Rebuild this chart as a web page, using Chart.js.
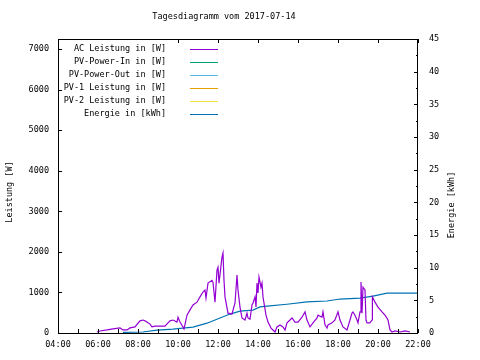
<!DOCTYPE html>
<html>
<head>
<meta charset="utf-8">
<script src="https://cdn.jsdelivr.net/npm/chart.js@4"></script>
<style>
  body { margin: 0; background: #fff; }
  canvas { display: block; }
</style>
</head>
<body>
<canvas id="tagesChart" width="480" height="360"></canvas>
<script>
// Titel und Achsen
const titel = "Tagesdiagramm vom 2017-07-14";
const achseLinks = "Leistung [W]";
const achseRechts = "Energie [kWh]";

// Tick-Werte
const zeitTicks = [4, 6, 8, 10, 12, 14, 16, 18, 20, 22];
const leistungTicks = [0, 1000, 2000, 3000, 4000, 5000, 6000, 7000];
const energieTicks = [0, 5, 10, 15, 20, 25, 30, 35, 40, 45];

// AC Leistung (Uhrzeit in Stunden, Watt)
const acZeit = [5.95, 6.1, 6.45, 6.75, 7.1, 7.25, 7.45, 7.6, 7.85, 8.1, 8.25, 8.35, 8.5, 8.6, 8.7, 8.85, 9.1, 9.35, 9.5, 9.6, 9.75, 9.95, 10.0, 10.1, 10.25, 10.3, 10.45, 10.6, 10.75, 10.95, 11.1, 11.25, 11.35, 11.4, 11.5, 11.7, 11.75, 11.85, 11.95, 12.0, 12.05, 12.2, 12.25, 12.3, 12.35, 12.45, 12.5, 12.7, 12.85, 12.95, 13.0, 13.1, 13.2, 13.35, 13.45, 13.5, 13.6, 13.7, 13.75, 13.85, 13.9, 13.95, 14.0, 14.05, 14.15, 14.2, 14.25, 14.3, 14.4, 14.5, 14.65, 14.75, 14.85, 14.95, 15.1, 15.25, 15.35, 15.45, 15.6, 15.7, 15.85, 16.0, 16.2, 16.35, 16.45, 16.6, 16.75, 16.95, 17.0, 17.2, 17.25, 17.35, 17.45, 17.5, 17.7, 17.85, 18.0, 18.1, 18.25, 18.45, 18.6, 18.7, 18.75, 18.85, 18.95, 19.0, 19.1, 19.15, 19.2, 19.25, 19.35, 19.4, 19.45, 19.6, 19.7, 19.72, 19.85, 20.0, 20.2, 20.35, 20.5, 20.6, 20.7, 20.85, 21.1, 21.35, 21.6];
const acLeistung = [25, 50, 75, 100, 125, 75, 75, 125, 150, 300, 320, 300, 250, 220, 150, 170, 170, 170, 250, 300, 320, 270, 390, 270, 150, 100, 440, 570, 690, 760, 890, 1010, 1060, 860, 1230, 1300, 1250, 760, 1550, 1620, 1230, 1870, 1970, 1300, 890, 620, 490, 470, 740, 1430, 1060, 640, 370, 320, 490, 370, 340, 690, 740, 890, 640, 1230, 990, 1380, 1130, 1230, 890, 740, 440, 270, 120, 75, 25, 150, 200, 150, 75, 250, 320, 370, 270, 270, 390, 520, 320, 150, 250, 370, 440, 390, 520, 200, 120, 200, 250, 320, 520, 320, 150, 75, 320, 490, 520, 440, 320, 250, 520, 1260, 490, 1130, 1060, 320, 250, 250, 320, 890, 760, 640, 520, 440, 320, 75, 25, 50, 25, 50, 25];

// Energie (Uhrzeit in Stunden, kWh)
const energieZeit = [7.25, 8.25, 8.95, 9.75, 10.25, 10.75, 11.45, 12.1, 12.6, 13.1, 13.75, 14.1, 14.45, 15.45, 16.45, 17.45, 18.1, 19.1, 19.75, 20.45, 21.95];
const energie = [0.1, 0.15, 0.45, 0.6, 0.75, 0.9, 1.5, 2.3, 2.9, 3.35, 3.5, 4.0, 4.1, 4.4, 4.75, 4.9, 5.2, 5.35, 5.65, 6.1, 6.1];

// keine Werte an diesem Tag
const pvInZeit = [], pvIn = [];
const pvOutZeit = [], pvOut = [];
const pv1Zeit = [], pv1 = [];
const pv2Zeit = [], pv2 = [];

function punkte(zeit, werte) {
  return zeit.map((z, i) => ({ x: z, y: werte[i] }));
}

const schrift = "DejaVu Sans Mono";
const groesse = 8.5;

// Rahmen, Ticks nach innen, Legende und Beschriftungen wie bei gnuplot
const gnuplotStil = {
  id: "gnuplotStil",
  afterDraw(chart) {
    const ctx = chart.ctx;
    const a = chart.chartArea;
    const sx = chart.scales.x, sy = chart.scales.y, sy2 = chart.scales.y2;
    ctx.save();
    ctx.strokeStyle = "#000";
    ctx.lineWidth = 1;
    ctx.strokeRect(Math.round(a.left) + 0.5, Math.round(a.top) + 0.5, Math.round(a.right - a.left) - 1, Math.round(a.bottom - a.top));

    ctx.beginPath();
    for (let h = 4; h <= 22; h++) {
      const px = Math.round(sx.getPixelForValue(h)) + 0.5;
      ctx.moveTo(px, a.bottom);
      ctx.lineTo(px, a.bottom - 4);
      if (h % 2 === 0 && h > 8) {
        ctx.moveTo(px, a.top);
        ctx.lineTo(px, a.top + 4);
      }
    }
    leistungTicks.forEach(w => {
      if (w === 0) return;
      const py = Math.round(sy.getPixelForValue(w)) + 0.5;
      ctx.moveTo(a.left, py);
      ctx.lineTo(a.left + 4, py);
    });
    for (let e = 2.5; e < 45; e += 2.5) {
      const py = Math.round(sy2.getPixelForValue(e)) + 0.5;
      const len = e % 5 === 0 ? 4 : 2;
      ctx.moveTo(a.right, py);
      ctx.lineTo(a.right - len, py);
    }
    ctx.stroke();

    ctx.fillStyle = "#000";
    ctx.font = groesse + "px '" + schrift + "'";
    ctx.textBaseline = "middle";
    ctx.textAlign = "center";
    ctx.fillText(titel, 224, 17);

    ctx.save();
    ctx.translate(10, 192);
    ctx.rotate(-Math.PI / 2);
    ctx.fillText(achseLinks, 0, 0);
    ctx.restore();
    ctx.save();
    ctx.translate(452, 205);
    ctx.rotate(-Math.PI / 2);
    ctx.fillText(achseRechts, 0, 0);
    ctx.restore();

    ctx.textAlign = "right";
    chart.data.datasets.forEach((ds, i) => {
      const y = 49 + i * 13;
      ctx.fillStyle = "#000";
      ctx.fillText(ds.label, 166, y);
      ctx.strokeStyle = ds.borderColor;
      ctx.beginPath();
      ctx.moveTo(190, y + 0.5);
      ctx.lineTo(218, y + 0.5);
      ctx.stroke();
    });
    ctx.restore();
  }
};

const lineStil = { borderWidth: 1.2, pointRadius: 0, fill: false, tension: 0 };
const tickSchrift = { family: schrift, size: groesse };
const keinGitter = { display: false, drawTicks: false };

new Chart(document.querySelector("#tagesChart"), {
  type: "line",
  data: {
    datasets: [
      { label: "AC Leistung in [W]", data: punkte(acZeit, acLeistung), borderColor: "#9400d3", yAxisID: "y", ...lineStil },
      { label: "PV-Power-In in [W]", data: punkte(pvInZeit, pvIn), borderColor: "#009e73", yAxisID: "y", ...lineStil },
      { label: "PV-Power-Out in [W]", data: punkte(pvOutZeit, pvOut), borderColor: "#56b4e9", yAxisID: "y", ...lineStil },
      { label: "PV-1 Leistung in [W]", data: punkte(pv1Zeit, pv1), borderColor: "#e69f00", yAxisID: "y", ...lineStil },
      { label: "PV-2 Leistung in [W]", data: punkte(pv2Zeit, pv2), borderColor: "#f0e442", yAxisID: "y", ...lineStil },
      { label: "Energie in [kWh]", data: punkte(energieZeit, energie), borderColor: "#0072b2", yAxisID: "y2", ...lineStil }
    ]
  },
  options: {
    responsive: false,
    animation: false,
    layout: { padding: { top: 39, left: 0, right: 0, bottom: 0 } },
    plugins: { legend: { display: false }, title: { display: false }, tooltip: { enabled: false } },
    scales: {
      x: {
        type: "linear", position: "bottom", min: 4, max: 22,
        grid: keinGitter, border: { display: false },
        ticks: {
          padding: 7, color: "#000", maxRotation: 0, autoSkip: false, font: tickSchrift,
          callback: v => String(v).padStart(2, "0") + ":00"
        },
        afterBuildTicks: s => { s.ticks = zeitTicks.map(v => ({ value: v })); },
        afterFit: s => { s.height = 27; }
      },
      y: {
        type: "linear", position: "left", min: 0, max: 7250,
        grid: keinGitter, border: { display: false },
        ticks: { padding: 9, color: "#000", autoSkip: false, font: tickSchrift, callback: v => String(v) },
        afterBuildTicks: s => { s.ticks = leistungTicks.map(v => ({ value: v })); },
        afterFit: s => { s.width = 58; }
      },
      y2: {
        type: "linear", position: "right", min: 0, max: 45,
        grid: keinGitter, border: { display: false },
        ticks: { padding: 11, color: "#000", autoSkip: false, font: tickSchrift, callback: v => String(v) },
        afterBuildTicks: s => { s.ticks = energieTicks.map(v => ({ value: v })); },
        afterFit: s => { s.width = 62; }
      }
    }
  },
  plugins: [gnuplotStil]
});
</script>
</body>
</html>
